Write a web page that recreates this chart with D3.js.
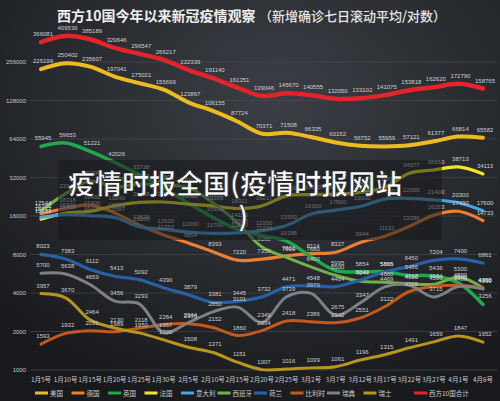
<!DOCTYPE html>
<html>
<head>
<meta charset="utf-8">
<script src="https://cdn.jsdelivr.net/npm/d3@7"></script>
<style>
  body { margin: 0; background: #1d1f23; }
  svg { display: block; }
</style>
</head>
<body>
<script>
// dates on the x axis
var dates = ["1月5号","1月10号","1月15号","1月20号","1月25号","1月30号","2月5号","2月10号","2月15号","2月20号",
             "2月25号","3月2号","3月7号","3月12号","3月17号","3月22号","3月27号","4月1号","4月6号"];

// 7-day rolling averages of new cases
var usa = [225199,250402,235607,197041,175021,155699,123867,106155,87724,70371,71508,66335,60152,56752,55959,57121,61377,66814,65582];
var germany = [16700,18318,19492,16900,13620,11353,9854,8393,7220,7359,7801,8114,8327,9944,11131,13286,16263,17430,14733];
var uk = [55945,59653,51221,42026,33738,26500,20134,15600,12580,11224,10188,7680,5995,5854,5865,5486,5436,4800,3256];
var france = [15133,16900,17400,19240,20448,20582,19822,19209,18311,19217,23000,23500,23700,24500,26800,34577,36650,38713,34113];
var italy = [15617,16400,16100,15587,13200,12600,12000,11700,11800,12300,13500,16600,17800,19000,21700,22000,21400,20300,17600];
var spain = [17544,23942,30000,27000,28500,27800,26600,20300,14150,9160,7600,6400,5500,4944,4860,4718,4684,5300,4390];
var netherlands = [8023,7383,6112,5413,5092,4390,3879,3381,3445,3732,4471,4548,4484,5040,5866,6450,7204,7400,6861];
var belgium = [1593,1932,2031,1989,2118,2264,2300,2152,1860,2034,2418,2386,2342,2551,3122,4109,4500,4600,4400];
var sweden = [5700,5638,4659,3456,3293,1957,2344,2850,3101,2349,3739,3970,2675,3347,4469,4600,3715,4489,4290];
var switzerland = [3957,3670,2464,2130,1950,1720,1508,1371,1151,1007,1016,1039,1061,1196,1315,1491,1659,1847,1652];
var total = [366081,409536,385189,329646,296547,266217,222339,191140,161351,139046,145670,140555,132050,133102,141075,153818,162620,172790,158765];

var yTicks = [1000,2000,4000,8000,16000,32000,64000,128000,256000];

var series = [
  {name: "美国", values: usa, color: "#ecbb22", w: 4},
  {name: "德国", values: germany, color: "#ee7e32", w: 3.2},
  {name: "英国", values: uk, color: "#1fa84c", w: 3.5},
  {name: "法国", values: france, color: "#f2e627", w: 3.2},
  {name: "意大利", values: italy, color: "#4aa5de", w: 3.2},
  {name: "西班牙", values: spain, color: "#72b04a", w: 3},
  {name: "荷兰", values: netherlands, color: "#2860a8", w: 3.2},
  {name: "比利时", values: belgium, color: "#c5581c", w: 3},
  {name: "瑞典", values: sweden, color: "#7f8083", w: 3},
  {name: "瑞士", values: switzerland, color: "#b8961e", w: 3},
  {name: "西方10国合计", values: total, color: "#e3242b", w: 4.5}
];

var W = 500, H = 401;
var cjk = "'Noto Sans CJK SC', sans-serif";
var num = "'Liberation Sans', Arial, sans-serif";

var svg = d3.select("body").append("svg").attr("width", W).attr("height", H);

var defs = svg.append("defs");
var bg = defs.append("radialGradient").attr("id", "bg")
    .attr("cx", "55%").attr("cy", "25%").attr("r", "80%");
bg.append("stop").attr("offset", "0%").attr("stop-color", "#3b3e44");
bg.append("stop").attr("offset", "100%").attr("stop-color", "#17191c");

svg.append("rect").attr("width", W).attr("height", H).attr("fill", "url(#bg)");

var x = d3.scalePoint().domain(dates).range([41, 483]);
var y = d3.scaleLog().base(2).domain([1000, 256000]).range([370, 62]);

// grid + y labels
var grid = svg.append("g");
grid.selectAll("line").data(yTicks).enter().append("line")
    .attr("x1", 30).attr("x2", 497)
    .attr("y1", function(d){ return y(d); })
    .attr("y2", function(d){ return y(d); })
    .attr("stroke", "#4a4d53").attr("stroke-width", 0.6);
grid.selectAll("text").data(yTicks).enter().append("text")
    .attr("x", 26).attr("y", function(d){ return y(d) + 2; })
    .attr("text-anchor", "end")
    .attr("font-family", num).attr("font-size", 6)
    .attr("fill", "#c4c6ca")
    .text(function(d){ return d; });

// x labels
svg.append("g").selectAll("text").data(dates).enter().append("text")
    .attr("x", function(d){ return x(d); }).attr("y", 382)
    .attr("text-anchor", "middle")
    .attr("font-family", cjk).attr("font-size", 6.5)
    .attr("fill", "#c8cacd")
    .text(function(d){ return d; });

var line = d3.line()
    .x(function(d, i){ return x(dates[i]); })
    .y(function(d){ return y(d); })
    .curve(d3.curveCatmullRom.alpha(0.5));

var lines = svg.append("g");
series.forEach(function(s){
  lines.append("path")
      .attr("d", line(s.values))
      .attr("fill", "none")
      .attr("stroke", s.color)
      .attr("stroke-width", s.w)
      .attr("stroke-linecap", "round");
});

var labels = svg.append("g");
series.forEach(function(s){
  labels.selectAll(null).data(s.values).enter().append("text")
      .attr("x", function(d, i){ return x(dates[i]) + 2; })
      .attr("y", function(d){ return y(d) - 6; })
      .attr("text-anchor", "middle")
      .attr("font-family", num).attr("font-size", 6)
      .attr("fill", "#cfd1d4")
      .text(function(d){ return d; });
});

// legend
var legend = svg.append("g");
series.forEach(function(s, i){
  var lx = 35 + i * 36.5 + (i === 10 ? 14 : 0);
  legend.append("line")
      .attr("x1", lx).attr("x2", lx + 13)
      .attr("y1", 393).attr("y2", 393)
      .attr("stroke", s.color).attr("stroke-width", 3);
  legend.append("text")
      .attr("x", lx + 15).attr("y", 395.5)
      .attr("font-family", cjk).attr("font-size", 6.5)
      .attr("fill", "#c8cacd")
      .text(s.name);
});

// title
svg.append("text").attr("x", 57).attr("y", 21)
    .attr("font-family", cjk).attr("font-size", 14).attr("font-weight", "bold")
    .attr("fill", "#eeeeee")
    .text("西方10国今年以来新冠疫情观察");
svg.append("text").attr("x", 259).attr("y", 21)
    .attr("font-family", cjk).attr("font-size", 13).attr("font-weight", 500)
    .attr("fill", "#e6e6e6")
    .text("（新增确诊七日滚动平均/对数）");

// watermark overlay
svg.append("rect").attr("x", 58).attr("y", 160).attr("width", 384).attr("height", 80)
    .attr("fill", "#16181b").attr("opacity", 0.55);
var wm = svg.append("g")
    .attr("font-family", cjk).attr("font-size", 27).attr("font-weight", "bold")
    .attr("fill", "#ffffff").attr("stroke", "#222").attr("stroke-width", 0.6);
wm.append("text").attr("x", 68).attr("y", 194).text("疫情时报全国(疫情时报网站");
wm.append("text").attr("x", 238).attr("y", 227).text(")");
</script>
</body>
</html>
